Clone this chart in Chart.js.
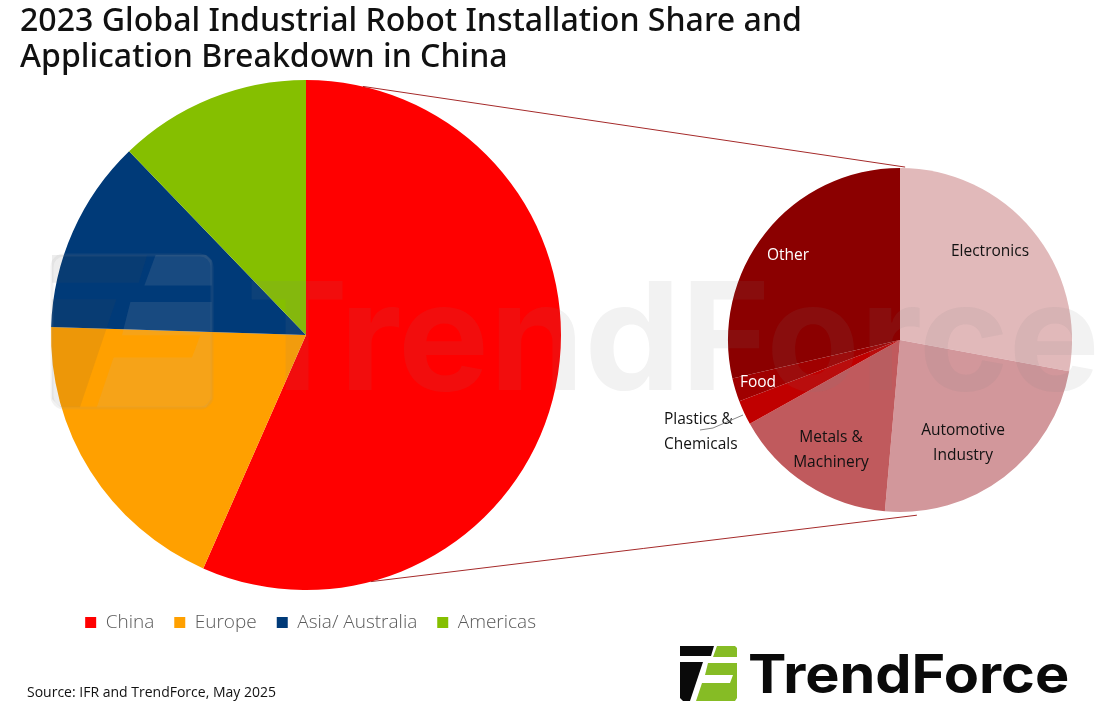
<!DOCTYPE html>
<html lang="en">
<head>
<meta charset="UTF-8">
<title>2023 Global Industrial Robot Installation Share</title>
<script src="https://cdn.jsdelivr.net/npm/chart.js@4"></script>
<style>
    html,body{margin:0;padding:0;background:#fff;width:1112px;height:711px;overflow:hidden;}
    canvas{position:absolute;left:0;top:0;}
    #title{position:absolute;left:20px;top:1px;font:500 32.1px/36px "Noto Sans",sans-serif;color:#111;white-space:nowrap;}
    #source{position:absolute;left:27px;top:683px;font:14px/18px "Open Sans",sans-serif;color:#111;white-space:nowrap;}
    #logoText{position:absolute;left:748px;top:636px;font:700 53px/76px Inter,sans-serif;color:#0a0a0a;white-space:nowrap;transform-origin:left center;transform:scaleX(1.086);}
    #icons{position:absolute;left:0;top:0;pointer-events:none;}
    #markText{position:absolute;left:246px;top:236px;font:700 150px/200px Inter,sans-serif;color:#808080;opacity:.1;white-space:nowrap;pointer-events:none;transform-origin:left center;transform:scaleX(1.02);}
</style>
</head>
<body>
<canvas id="regionChart" width="1112" height="711"></canvas>
<canvas id="appChart" width="1112" height="711"></canvas>

<div id="title">2023 Global Industrial Robot Installation Share and<br>Application Breakdown in China</div>
<div id="source">Source: IFR and TrendForce, May 2025</div>
<div id="markText">TrendForce</div>
<div id="logoText">TrendForce</div>

<!-- logo, also used big and faint as the watermark -->
<svg id="icons" width="1112" height="711">
    <defs>
        <g id="iconDark">
            <polygon points="680,646 714,646 711,656 680,656"/>
            <polygon points="680,662 703,662 690,701 683,701 680,698"/>
        </g>
        <g id="iconLight">
            <polygon points="717,646 735,646 737,648 737,657 713,657"/>
            <polygon points="708,663 737,663 737,698 735,701 696,701 702,683 730,683 733,675 705,675"/>
        </g>
    </defs>
    <g transform="translate(52,255) scale(2.8,2.77) translate(-680,-646)">
        <use href="#iconDark" fill="#505050" fill-opacity=".1"/>
        <use href="#iconLight" fill="#b8b8b8" fill-opacity=".13"/>
    </g>
    <rect x="52" y="255" width="160" height="153" rx="12" fill="none" stroke="#909090" stroke-opacity=".12" stroke-width="3"/>
    <use href="#iconDark" fill="#0a0a0a"/>
    <use href="#iconLight" fill="#86bc25"/>
</svg>

<script>
    const regions = ['China','Europe','Asia/ Australia','Americas'];
    const regionShare = [56.6,18.9,12.3,12.2];
    const regionColors = ['#ff0000','#ffa000','#003a78','#85bf00'];

    const apps = ['Electronics','Automotive Industry','Metals & Machinery','Plastics & Chemicals','Food','Other'];
    const appShare = [27.9,23.5,15.5,2.3,2.2,28.6];
    const appColors = ['#e1b9ba','#d2979b','#c05a5d','#c00000','#a00000','#8b0000'];

    // point on a circle, angle is clockwise from 12 o'clock
    function polar(cx,cy,r,deg){
        const a = deg*Math.PI/180;
        return {x:cx+r*Math.sin(a), y:cy-r*Math.cos(a)};
    }

    const regionChart = new Chart(document.getElementById('regionChart'),{
        type:'pie',
        data:{labels:regions,datasets:[{data:regionShare,backgroundColor:regionColors,borderWidth:0,radius:255}]},
        options:{
            responsive:false,
            animation:false,
            // legend ends at the right edge of this padded box
            layout:{padding:{left:56,right:556,top:77,bottom:69}},
            plugins:{
                tooltip:{enabled:false},
                legend:{
                    position:'bottom',
                    align:'end',
                    labels:{
                        boxWidth:11,boxHeight:11,padding:20,color:'#595959',
                        font:{family:'"Open Sans"',size:19,weight:300}
                    }
                }
            }
        }
    });

    // label spots around the small pie: [dx,dy from the centre, text lines, colour, align]
    const appLabels = {
        id:'appLabels',
        afterDraw(chart){
            const ctx = chart.ctx;
            const arc = chart.getDatasetMeta(0).data[0];
            const cx = arc.x, cy = arc.y;
            const spots = [
                [90,-88,['Electronics'],'#111','center'],
                [63,103,['Automotive','Industry'],'#111','center'],
                [-69,110,['Metals &','Machinery'],'#111','center'],
                [-236,92,['Plastics &','Chemicals'],'#111','left'],
                [-142,43,['Food'],'#fff','center'],
                [-112,-84,['Other'],'#fff','center']
            ];
            ctx.save();
            ctx.font = '15.5px "Open Sans"';
            ctx.textBaseline = 'middle';
            spots.forEach(s=>{
                ctx.fillStyle = s[3];
                ctx.textAlign = s[4];
                s[2].forEach((t,i)=>{
                    ctx.fillText(t,cx+s[0],cy+s[1]+(i-(s[2].length-1)/2)*25);
                });
            });
            // plastics leader
            ctx.strokeStyle = '#888';
            ctx.lineWidth = 1;
            ctx.beginPath();
            ctx.moveTo(cx-200,cy+90);
            ctx.lineTo(cx-187,cy+88);
            ctx.lineTo(cx-157,cy+75);
            ctx.stroke();

            // connector lines between the China slice and the small pie
            const big = regionChart.getDatasetMeta(0).data[0];
            const a1 = polar(big.x,big.y,big.outerRadius,12.9);
            const b1 = polar(cx,cy,arc.outerRadius+1,1.7);
            const a2 = polar(big.x,big.y,big.outerRadius,165.3);
            const b2 = polar(cx,cy,arc.outerRadius+4,174.5);
            ctx.strokeStyle = '#a52a2a';
            ctx.beginPath();
            ctx.moveTo(a1.x,a1.y);
            ctx.lineTo(b1.x,b1.y);
            ctx.moveTo(a2.x,a2.y);
            ctx.lineTo(b2.x,b2.y);
            ctx.stroke();
            ctx.restore();
        }
    };

    new Chart(document.getElementById('appChart'),{
        type:'pie',
        data:{labels:apps,datasets:[{data:appShare,backgroundColor:appColors,borderWidth:0,radius:172}]},
        options:{
            responsive:false,
            animation:false,
            layout:{padding:{left:700,right:12,top:140,bottom:171}},
            plugins:{legend:{display:false},tooltip:{enabled:false}}
        },
        plugins:[appLabels]
    });
</script>
</body>
</html>
